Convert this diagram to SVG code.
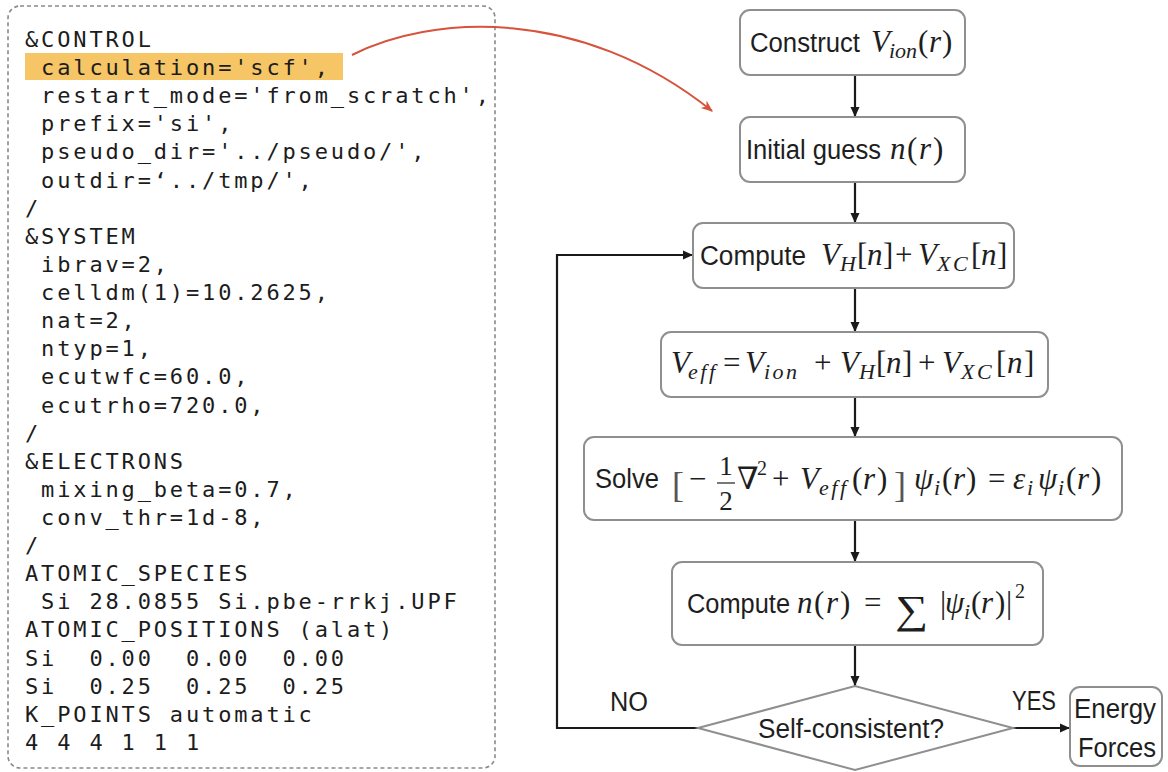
<svg xmlns="http://www.w3.org/2000/svg" width="1168" height="772" viewBox="0 0 1168 772">
  <defs>
    <style>
      .panel { fill: #fff; stroke: #8a8a8a; stroke-width: 1.6; stroke-dasharray: 4 3; }
      .code { font-family: "DejaVu Sans Mono", "Liberation Mono", monospace; font-size: 22px; letter-spacing: 2.85px; fill: #1c1c1c; white-space: pre; }
      .box { fill: #fff; stroke: #8f8f8f; stroke-width: 2; }
      .lbl { font-family: "Liberation Sans", Arial, sans-serif; font-size: 27px; fill: #1e1e1e; }
      .m { font-family: "Liberation Serif", "Times New Roman", "DejaVu Serif", serif; font-size: 31px; fill: #1e1e1e; }
      .i { font-style: italic; }
      .sub { font-size: 22px; }
      .wide { letter-spacing: 2.5px; }
      .sup { font-size: 20px; }
      .frac { font-size: 27px; }
      .sum { font-size: 40px; }
      .br { font-size: 36px; fill: #555; }
      .edge { stroke: #1a1a1a; stroke-width: 2.2; fill: none; marker-end: url(#ah); }
      .link { stroke: #d6533c; stroke-width: 2; fill: none; marker-end: url(#ahr); }
    </style>
    <marker id="ah" viewBox="0 0 10 10" refX="10" refY="5" markerWidth="11" markerHeight="10" markerUnits="userSpaceOnUse" orient="auto">
      <path d="M0,0.5 L10,5 L0,9.5 z" fill="#1a1a1a"/>
    </marker>
    <marker id="ahr" viewBox="0 0 10 10" refX="9" refY="5" markerWidth="12" markerHeight="12" markerUnits="userSpaceOnUse" orient="auto">
      <path d="M0,1 L10,5 L0,9 L3,5 z" fill="#d6533c"/>
    </marker>
  </defs>

  <rect width="1168" height="772" fill="#fff"/>

  <!-- pw.x input file -->
  <g id="code-panel">
    <rect class="panel" x="8" y="6" width="487" height="762" rx="12"/>
    <rect x="25" y="53" width="318" height="27" fill="#f5c566"/>
    <text class="code">
      <tspan x="25" y="47">&amp;CONTROL</tspan>
      <tspan x="25" y="75"> calculation='scf',</tspan>
      <tspan x="25" y="103"> restart_mode='from_scratch',</tspan>
      <tspan x="25" y="131"> prefix='si',</tspan>
      <tspan x="25" y="159"> pseudo_dir='../pseudo/',</tspan>
      <tspan x="25" y="188"> outdir=‘../tmp/',</tspan>
      <tspan x="25" y="216">/</tspan>
      <tspan x="25" y="244">&amp;SYSTEM</tspan>
      <tspan x="25" y="272"> ibrav=2,</tspan>
      <tspan x="25" y="300"> celldm(1)=10.2625,</tspan>
      <tspan x="25" y="328"> nat=2,</tspan>
      <tspan x="25" y="356"> ntyp=1,</tspan>
      <tspan x="25" y="384"> ecutwfc=60.0,</tspan>
      <tspan x="25" y="413"> ecutrho=720.0,</tspan>
      <tspan x="25" y="441">/</tspan>
      <tspan x="25" y="469">&amp;ELECTRONS</tspan>
      <tspan x="25" y="497"> mixing_beta=0.7,</tspan>
      <tspan x="25" y="525"> conv_thr=1d-8,</tspan>
      <tspan x="25" y="553">/</tspan>
      <tspan x="25" y="581">ATOMIC_SPECIES</tspan>
      <tspan x="25" y="609"> Si 28.0855 Si.pbe-rrkj.UPF</tspan>
      <tspan x="25" y="637">ATOMIC_POSITIONS (alat)</tspan>
      <tspan x="25" y="666">Si  0.00  0.00  0.00</tspan>
      <tspan x="25" y="694">Si  0.25  0.25  0.25</tspan>
      <tspan x="25" y="722">K_POINTS automatic</tspan>
      <tspan x="25" y="750">4 4 4 1 1 1</tspan>
    </text>
  </g>

  <!-- connectors -->
  <g id="connectors">
    <path class="link" d="M352,55 C430,15 580,5 712,111"/>
    <path class="edge" d="M855,75 V117"/>
    <path class="edge" d="M855,182 V223"/>
    <path class="edge" d="M855,288 V332"/>
    <path class="edge" d="M855,397 V437"/>
    <path class="edge" d="M855,520 V562"/>
    <path class="edge" d="M855,645 V686"/>
    <path class="edge" d="M698,728 H557 V255 H693"/>
    <path class="edge" d="M1013,728 H1070"/>
    <text class="lbl" x="610" y="711" textLength="38" lengthAdjust="spacingAndGlyphs">NO</text>
    <text class="lbl" x="1012" y="710" textLength="44" lengthAdjust="spacingAndGlyphs">YES</text>
  </g>

  <g id="n-construct">
    <rect class="box" x="740" y="10" width="225" height="65" rx="10"/>
    <text class="lbl" x="750" y="52" textLength="110" lengthAdjust="spacingAndGlyphs">Construct</text>
    <text class="m"><tspan class="i" x="871" y="52">V</tspan><tspan class="sub i" x="889" y="58">ion</tspan><tspan x="918" y="52">(</tspan><tspan class="i" x="929" y="52">r</tspan><tspan x="942" y="52">)</tspan></text>
  </g>

  <g id="n-initial">
    <rect class="box" x="740" y="117" width="225" height="65" rx="10"/>
    <text class="lbl" x="746" y="159" textLength="135" lengthAdjust="spacingAndGlyphs">Initial guess</text>
    <text class="m"><tspan class="i" x="890" y="159">n</tspan><tspan x="907" y="159">(</tspan><tspan class="i" x="919" y="159">r</tspan><tspan x="933" y="159">)</tspan></text>
  </g>

  <g id="n-hxc">
    <rect class="box" x="693" y="223" width="321" height="65" rx="10"/>
    <text class="lbl" x="700" y="265" textLength="106" lengthAdjust="spacingAndGlyphs">Compute</text>
    <text class="m"><tspan class="i" x="821" y="265">V</tspan><tspan class="sub i" x="840" y="271">H</tspan><tspan x="857" y="265">[</tspan><tspan class="i" x="867" y="265">n</tspan><tspan x="883" y="265">]</tspan><tspan x="895" y="265">+</tspan><tspan class="i" x="918" y="265">V</tspan><tspan class="sub i wide" x="937" y="271">XC</tspan><tspan x="971" y="265">[</tspan><tspan class="i" x="981" y="265">n</tspan><tspan x="997" y="265">]</tspan></text>
  </g>

  <g id="n-veff">
    <rect class="box" x="661" y="332" width="387" height="65" rx="10"/>
    <text class="m"><tspan class="i" x="671" y="373">V</tspan><tspan class="sub i wide" x="688" y="379">eff</tspan><tspan x="723" y="373">=</tspan><tspan class="i" x="745" y="373">V</tspan><tspan class="sub i wide" x="764" y="379">ion</tspan><tspan x="814" y="373">+</tspan><tspan class="i" x="840" y="373">V</tspan><tspan class="sub i" x="859" y="379">H</tspan><tspan x="876" y="373">[</tspan><tspan class="i" x="886" y="373">n</tspan><tspan x="902" y="373">]</tspan><tspan x="918" y="373">+</tspan><tspan class="i" x="942" y="373">V</tspan><tspan class="sub i wide" x="961" y="379">XC</tspan><tspan x="996" y="373">[</tspan><tspan class="i" x="1007" y="373">n</tspan><tspan x="1024" y="373">]</tspan></text>
  </g>

  <g id="n-solve">
    <rect class="box" x="584" y="437" width="538" height="83" rx="10"/>
    <text class="lbl" x="595" y="488" textLength="64" lengthAdjust="spacingAndGlyphs">Solve</text>
    <text class="m br" x="672" y="497">[</text>
    <text class="m" x="689" y="489">−</text>
    <text class="m frac" x="726" y="475" text-anchor="middle">1</text>
    <line x1="717" y1="483" x2="735" y2="483" stroke="#1e1e1e" stroke-width="1.2"/>
    <text class="m frac" x="726" y="510" text-anchor="middle">2</text>
    <text class="m" x="737" y="489">∇</text>
    <text class="m sup" x="757" y="475">2</text>
    <text class="m"><tspan x="772" y="489">+</tspan><tspan class="i" x="800" y="489">V</tspan><tspan class="sub i wide" x="819" y="495">eff</tspan><tspan x="852" y="489">(</tspan><tspan class="i" x="863" y="489">r</tspan><tspan x="877" y="489">)</tspan></text>
    <text class="m br" x="894" y="497">]</text>
    <text class="m"><tspan class="i" x="914" y="489">ψ</tspan><tspan class="sub i" x="934" y="495">i</tspan><tspan x="942" y="489">(</tspan><tspan class="i" x="953" y="489">r</tspan><tspan x="966" y="489">)</tspan><tspan x="988" y="489">=</tspan><tspan class="i" x="1013" y="489">ε</tspan><tspan class="sub i" x="1027" y="495">i</tspan><tspan class="i" x="1038" y="489">ψ</tspan><tspan class="sub i" x="1058" y="495">i</tspan><tspan x="1066" y="489">(</tspan><tspan class="i" x="1077" y="489">r</tspan><tspan x="1091" y="489">)</tspan></text>
  </g>

  <g id="n-density">
    <rect class="box" x="672" y="562" width="371" height="83" rx="10"/>
    <text class="lbl" x="687" y="613" textLength="103" lengthAdjust="spacingAndGlyphs">Compute</text>
    <text class="m"><tspan class="i" x="797" y="613">n</tspan><tspan x="814" y="613">(</tspan><tspan class="i" x="826" y="613">r</tspan><tspan x="840" y="613">)</tspan><tspan x="864" y="613">=</tspan></text>
    <text class="m sum" x="895" y="623" textLength="33" lengthAdjust="spacingAndGlyphs">∑</text>
    <text class="m"><tspan x="940" y="613">|</tspan><tspan class="i" x="945" y="613">ψ</tspan><tspan class="sub i" x="964" y="619">i</tspan><tspan x="971" y="613">(</tspan><tspan class="i" x="981" y="613">r</tspan><tspan x="995" y="613">)</tspan><tspan x="1006" y="613">|</tspan><tspan class="sup" x="1015" y="598">2</tspan></text>
  </g>

  <g id="n-check">
    <polygon class="box" points="698,728 855,686 1013,728 855,770"/>
    <text class="lbl" x="758" y="738" textLength="186" lengthAdjust="spacingAndGlyphs">Self-consistent?</text>
  </g>

  <g id="n-output">
    <rect class="box" x="1070" y="687" width="92" height="79" rx="10"/>
    <text class="lbl" x="1074" y="718" textLength="82" lengthAdjust="spacingAndGlyphs">Energy</text>
    <text class="lbl" x="1078" y="757" textLength="78" lengthAdjust="spacingAndGlyphs">Forces</text>
  </g>
</svg>
